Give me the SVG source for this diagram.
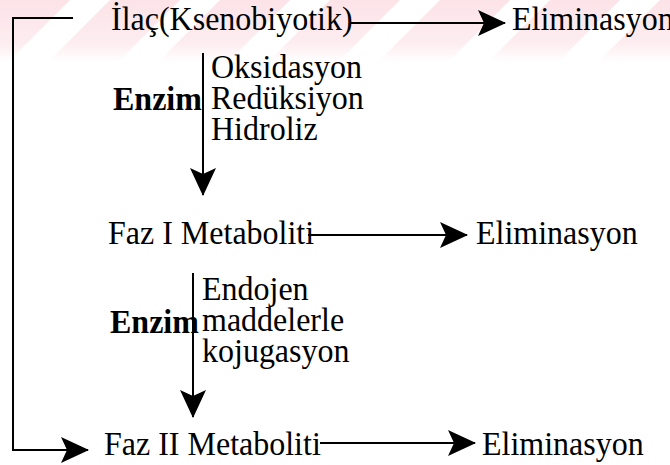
<svg xmlns="http://www.w3.org/2000/svg" width="670" height="465" viewBox="0 0 670 465">
  <style>
    .t { font-family: "Liberation Serif", "Times New Roman", serif; font-size: 32px; fill: #000; }
    .b { font-weight: bold; }
    .ln { stroke: #000; stroke-width: 2; fill: none; }
    .wm { fill: url(#wmg); }
  </style>
  <defs>
    <linearGradient id="wmg" gradientUnits="userSpaceOnUse" x1="0" y1="0" x2="0" y2="62">
      <stop offset="0" stop-color="#fce3e8"/>
      <stop offset="0.7" stop-color="#fdedf0"/>
      <stop offset="1" stop-color="#ffffff"/>
    </linearGradient>
    <marker id="ah" viewBox="0 0 28 26" refX="27" refY="13" markerWidth="28" markerHeight="26" markerUnits="userSpaceOnUse" orient="auto">
      <path d="M0,0 L28,13 L0,26 L6,13 Z" fill="#000"/>
    </marker>
  </defs>
  <rect width="670" height="465" fill="#ffffff"/>
  <g id="watermark">
    <polygon class="wm" points="0,0 70,0 8,62 0,62"/>
    <polygon class="wm" points="110,0 180,0 118,62 48,62"/>
    <polygon class="wm" points="220,0 290,0 228,62 158,62"/>
    <polygon class="wm" points="330,0 400,0 338,62 268,62"/>
    <polygon class="wm" points="440,0 510,0 448,62 378,62"/>
    <polygon class="wm" points="550,0 620,0 558,62 488,62"/>
    <polygon class="wm" points="660,0 670,0 670,62 598,62"/>
  </g>
  <g id="connectors">
    <polyline class="ln" points="73,18 13,18 13,450 88,450" marker-end="url(#ah)"/>
    <line class="ln" x1="350" y1="23" x2="505" y2="23" marker-end="url(#ah)"/>
    <line class="ln" x1="203" y1="53" x2="203" y2="195" marker-end="url(#ah)"/>
    <line class="ln" x1="308" y1="235" x2="467" y2="235" marker-end="url(#ah)"/>
    <line class="ln" x1="193" y1="273" x2="193" y2="417" marker-end="url(#ah)"/>
    <line class="ln" x1="320" y1="443" x2="475" y2="443" marker-end="url(#ah)"/>
  </g>
  <g id="ilac"><text class="t" transform="translate(111,30) scale(1,1.08)">İlaç(Ksenobiyotik)</text></g>
  <g id="elim1"><text class="t" transform="translate(512,30) scale(1,1.08)">Eliminasyon</text></g>
  <g id="enzim1">
    <text class="t b" transform="translate(113,110) scale(1,1.08)">Enzim</text>
    <text class="t" transform="translate(211,78) scale(1,1.08)">Oksidasyon</text>
    <text class="t" transform="translate(211,109) scale(1,1.08)">Redüksiyon</text>
    <text class="t" transform="translate(211,140) scale(1,1.08)">Hidroliz</text>
  </g>
  <g id="faz1"><text class="t" transform="translate(108,244) scale(1,1.08)">Faz I Metaboliti</text></g>
  <g id="elim2"><text class="t" transform="translate(476,244) scale(1,1.08)">Eliminasyon</text></g>
  <g id="enzim2">
    <text class="t b" transform="translate(110,333) scale(1,1.08)">Enzim</text>
    <text class="t" transform="translate(202,300) scale(1,1.08)">Endojen</text>
    <text class="t" transform="translate(202,331) scale(1,1.08)">maddelerle</text>
    <text class="t" transform="translate(202,362) scale(1,1.08)">kojugasyon</text>
  </g>
  <g id="faz2"><text class="t" transform="translate(104,455) scale(1,1.08)">Faz II Metaboliti</text></g>
  <g id="elim3"><text class="t" transform="translate(482,455) scale(1,1.08)">Eliminasyon</text></g>
</svg>
